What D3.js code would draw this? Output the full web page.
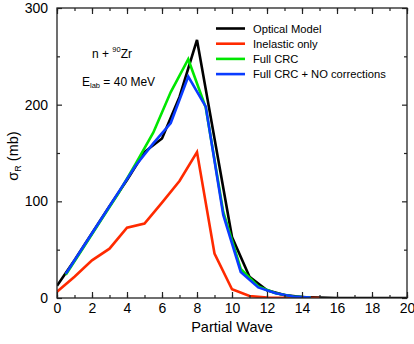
<!DOCTYPE html>
<html><head><meta charset="utf-8">
<script src="https://cdn.jsdelivr.net/npm/d3@7"></script>
<style>body{margin:0;background:#fff}svg{display:block}text{font-family:"Liberation Sans",Arial,Helvetica,sans-serif}</style>
</head><body>
<script>
const partialWaves = [0,1,2,3,4,5,6,7,8,9,10,11,12,13,14,15,16,17,18,19,20];
const opticalModel = [12.7,39,67,95,122,151,165,208,267,165,63,22,8,3,1,0.4,0,0,0,0,0];
const inelasticWaves = [0,1,2,3,4,5,6,7,8,9,10,11,12,13,14,15];
const inelasticOnly = [6.5,22,39,51,72.7,77,98.6,121,151,46,9,2,0.5,0.2,0.1,0];
const halfWaves = [0.5,1.5,2.5,3.5,4.5,5.5,6.5,7.5,8.5,9.5,10.5,11.5,12.5,13.5,14.5];
const fullCRC = [24,52,80,108,139,171,213,247,197,89,30,12,5,1.5,0.5];
const fullCRCNO = [25,53,81,109,137,160,181,229,198,86,27,11,5,1.5,0.5];
const xTicks = [0,2,4,6,8,10,12,14,16,18,20];
const yTicks = [0,100,200,300];
const legendLabels = ["Optical Model","Inelastic only","Full CRC","Full CRC + NO corrections"];
const colors = ["#000000","#ff2a00","#00e600","#0a3cff"];

(function(){
const W=414,H=344;
const svg=d3.select("body").append("svg").attr("width",W).attr("height",H);
const x=d3.scaleLinear().domain([0,20]).range([57,407]);
const y=d3.scaleLinear().domain([0,300]).range([298,8]);

const series=[
 {xs:partialWaves, ys:opticalModel, c:colors[0]},
 {xs:inelasticWaves, ys:inelasticOnly, c:colors[1]},
 {xs:halfWaves, ys:fullCRC, c:colors[2]},
 {xs:halfWaves, ys:fullCRCNO, c:colors[3]}
];
const line=d3.line().x(d=>x(d[0])).y(d=>y(d[1]));
svg.append("clipPath").attr("id","c").append("rect").attr("x",57).attr("y",8).attr("width",350).attr("height",290);
const g=svg.append("g").attr("clip-path","url(#c)");
series.forEach(s=>{
  g.append("path").attr("d",line(s.xs.map((v,i)=>[v,s.ys[i]]))).attr("fill","none")
   .attr("stroke",s.c).attr("stroke-width",2.6).attr("stroke-linejoin","miter");
});

const stroke="#222";
svg.append("g").attr("transform","translate(0,298)")
  .call(d3.axisBottom(x).tickValues(d3.range(0,21,1)).tickSize(-3).tickFormat(""));
svg.append("g").attr("transform","translate(0,298)")
  .call(d3.axisBottom(x).tickValues(xTicks).tickSize(-6).tickPadding(5).tickFormat(d3.format("d")));
svg.append("g").attr("transform","translate(0,8)")
  .call(d3.axisTop(x).tickValues(d3.range(0,21,1)).tickSize(-3).tickFormat(""));
svg.append("g").attr("transform","translate(0,8)")
  .call(d3.axisTop(x).tickValues(xTicks).tickSize(-6).tickFormat(""));
svg.append("g").attr("transform","translate(57,0)")
  .call(d3.axisLeft(y).tickValues([50,150,250]).tickSize(-3).tickFormat(""));
svg.append("g").attr("transform","translate(57,0)")
  .call(d3.axisLeft(y).tickValues(yTicks).tickSize(-5).tickPadding(9).tickFormat(d3.format("d")));
svg.append("g").attr("transform","translate(407,0)")
  .call(d3.axisRight(y).tickValues([50,150,250]).tickSize(-3).tickFormat(""));
svg.append("g").attr("transform","translate(407,0)")
  .call(d3.axisRight(y).tickValues(yTicks).tickSize(-5).tickFormat(""));
svg.selectAll(".domain").remove();
svg.selectAll(".tick line").attr("stroke",stroke).attr("stroke-width",1.2);
svg.selectAll(".tick text").attr("font-size",14).attr("fill","#000").attr("font-family","Liberation Sans, Arial, sans-serif");
svg.append("rect").attr("x",57).attr("y",8).attr("width",350).attr("height",290)
  .attr("fill","none").attr("stroke",stroke).attr("stroke-width",1.3);

svg.append("text").attr("x",232).attr("y",332).attr("text-anchor","middle").attr("font-size",14.5).text("Partial Wave");
const yt=svg.append("text").attr("transform","translate(18,156) rotate(-90)").attr("text-anchor","middle").attr("font-size",14.5);
yt.append("tspan").text("σ");
yt.append("tspan").attr("font-size",9).attr("dy",3).text("R");
yt.append("tspan").attr("dy",-3).text(" (mb)");

const a1=svg.append("text").attr("x",92).attr("y",58).attr("font-size",12);
a1.append("tspan").text("n + ");
a1.append("tspan").attr("font-size",7.5).attr("dy",-6).text("90");
a1.append("tspan").attr("dy",6).text("Zr");
const a2=svg.append("text").attr("x",82).attr("y",86).attr("font-size",12);
a2.append("tspan").text("E");
a2.append("tspan").attr("font-size",7.5).attr("dy",2).text("lab");
a2.append("tspan").attr("dy",-2).text(" = 40 MeV");

const lg=svg.append("g");
legendLabels.forEach((t,i)=>{
  const yy=28.5+i*15.2;
  lg.append("line").attr("x1",216).attr("x2",245).attr("y1",yy).attr("y2",yy).attr("stroke",colors[i]).attr("stroke-width",2.6);
  lg.append("text").attr("x",253).attr("y",yy+4).attr("font-size",11.2).text(t);
});
})();
</script>
</body></html>
